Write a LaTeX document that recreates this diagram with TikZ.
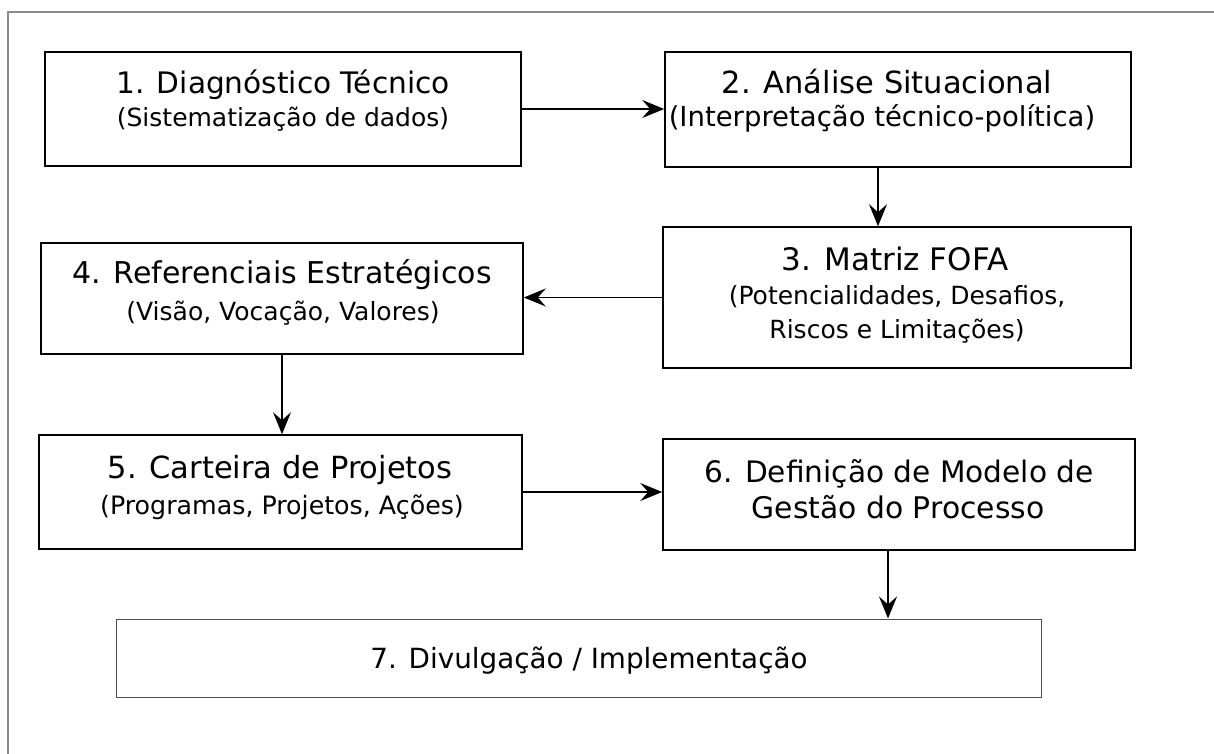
\documentclass[tikz,border=0pt]{standalone}
\usepackage{fontspec}
\setmainfont{DejaVu Sans}
\usetikzlibrary{arrows.meta,calc}
\tikzset{
  box/.style={draw=black, line width=1.6pt, fill=white, inner sep=0pt},
  lbox/.style={draw=black!70, line width=1pt, fill=white, inner sep=0pt},
  txt/.style={anchor=base, inner sep=0pt, font=\fontsize{#1}{#1}\selectfont},
  arr/.style={line width=1.6pt, -{Stealth[length=22pt,width=18pt,inset=8pt]}},
  frame/.style={draw=black!45, line width=1.5pt}
}
\begin{document}
\begin{tikzpicture}[x=1pt,y=-1pt]
\useasboundingbox (0,0) rectangle (1214,754);
\fill[white] (0,0) rectangle (1214,754);
\coordinate (fa) at (8,754);
\coordinate (fb) at (8,12);
\coordinate (fc) at (1214,12);
\draw[frame] (fa) -- (fb) -- (fc);
% boxes
\node[box, minimum width=476pt, minimum height=114pt] (b1) at (283,109) {};
\node[box, minimum width=466pt, minimum height=115pt] (b2) at (898,109.5) {};
\node[box, minimum width=468pt, minimum height=141pt] (b3) at (897,297.5) {};
\node[box, minimum width=482pt, minimum height=111pt] (b4) at (282,298.5) {};
\node[box, minimum width=483pt, minimum height=114pt] (b5) at (280.5,492) {};
\node[box, minimum width=472pt, minimum height=111pt] (b6) at (899,494.5) {};
\node[lbox, minimum width=925pt, minimum height=78pt] (b7) at (578.5,658) {};
% texts
\node[txt=29.6] (t1a) at (283,94) {1. Diagnóstico Técnico};
\node[txt=25] (t1b) at (283,127) {(Sistematização de dados)};
\node[txt=30.5] (t2a) at (887,94) {2. Análise Situacional};
\node[txt=27.5] (t2b) at (882,127) {(Interpretação técnico-política)};
\node[txt=31] (t3a) at (895,270) {3. Matriz FOFA};
\node[txt=25] (t3b) at (897,304) {(Potencialidades, Desafios,};
\node[txt=25] (t3c) at (897,338) {Riscos e Limitações)};
\node[txt=30] (t4a) at (282,283) {4. Referenciais Estratégicos};
\node[txt=25] (t4b) at (283,320) {(Visão, Vocação, Valores)};
\node[txt=30.5] (t5a) at (280,478) {5. Carteira de Projetos};
\node[txt=25.3] (t5b) at (282,514) {(Programas, Projetos, Ações)};
\node[txt=29.6] (t6a) at (899,482) {6. Definição de Modelo de};
\node[txt=29.8] (t6b) at (898,518) {Gestão do Processo};
\node[txt=27.8] (t7) at (589,668) {7. Divulgação / Implementação};
% connectors
\draw[arr] (b1.east) -- (b1.east -| b2.west);
\draw[arr] ([xshift=-20pt]b2.south) -- ([xshift=-20pt]b2.south |- b3.north);
\draw[arr] (b3.west) -- (b3.west -| b4.east);
\draw[arr] (b4.south) -- (b4.south |- b5.north);
\draw[arr] (b5.east) -- (b5.east -| b6.west);
\draw[arr] ([xshift=-11pt]b6.south) -- ([xshift=-11pt]b6.south |- b7.north);
\end{tikzpicture}
\end{document}
